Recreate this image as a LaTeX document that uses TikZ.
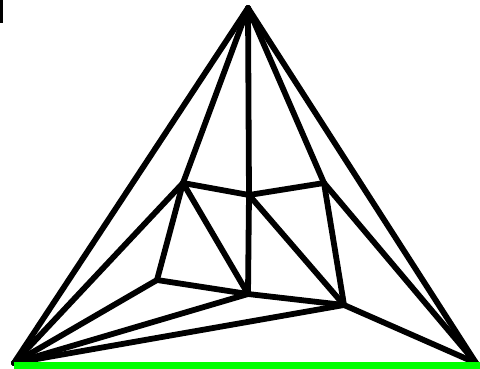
\documentclass[tikz,border=0pt]{standalone}
\begin{document}
\begin{tikzpicture}[x=1pt,y=-1pt,
  edge/.style={draw=black,line width=5.8pt,line cap=round},
  base/.style={draw=green,line width=7pt}]
\useasboundingbox (0,0) rectangle (480,368);
\clip (0,0) rectangle (480,368);
\coordinate (T) at (248,8);
\coordinate (L) at (14,363);
\coordinate (R) at (476,363);
\coordinate (A) at (183,183);
\coordinate (B) at (249,195);
\coordinate (C) at (324,183);
\coordinate (D) at (157,280);
\coordinate (E) at (248,294);
\coordinate (F) at (344,305);
\fill[black] (0,0) rectangle (2.5,23);
\foreach \u/\v in {T/L,T/R,T/A,T/B,T/C,A/B,B/C,B/E,A/D,A/E,B/F,C/F,D/E,E/F,L/A,L/D,L/E,L/F,R/C,R/F}
  \draw[edge] (\u) -- (\v);
\draw[base,shorten >=-6pt] ([yshift=-2.5pt]L) -- ([yshift=-2.5pt]R);
\end{tikzpicture}
\end{document}
